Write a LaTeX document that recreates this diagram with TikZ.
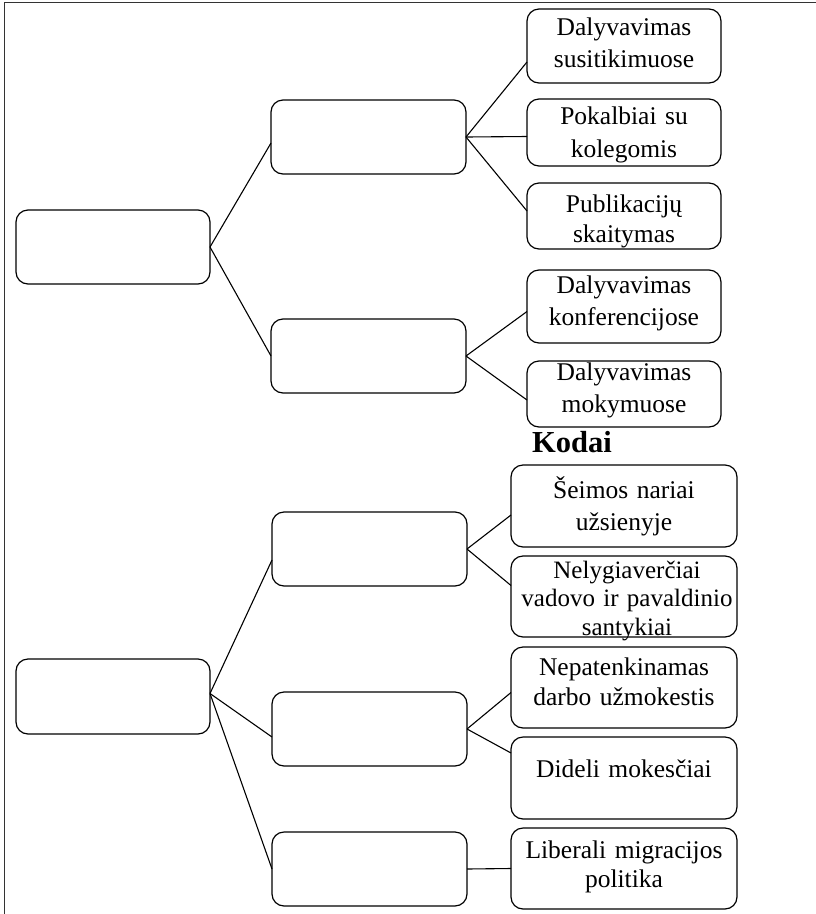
\documentclass[tikz,border=0pt]{standalone}
\usepackage{fontspec}
\setmainfont{Liberation Serif}
\begin{document}
\begin{tikzpicture}[x=1pt,y=-1pt,
  box/.style={draw, line width=1.2pt, rounded corners=12pt, inner sep=0pt, outer sep=0pt},
  lbl/.style={inner sep=0pt, outer sep=0pt, text width=250pt, align=center, anchor=base},
  conn/.style={line width=1.1pt}]
\useasboundingbox (0,0) rectangle (816,914);
\draw[line width=1pt, black!80] (4,914) -- (4,2) -- (816,2);

% top group boxes
\node[box, minimum width=194pt, minimum height=74pt] (root1) at (113,247) {};
\node[box, minimum width=195pt, minimum height=74pt] (mid1a) at (368.5,137) {};
\node[box, minimum width=195pt, minimum height=74pt] (mid1b) at (368.5,356) {};
\node[box, minimum width=194pt, minimum height=74pt] (leaf1) at (624,46) {};
\node[box, minimum width=194pt, minimum height=67pt] (leaf2) at (624,132.5) {};
\node[box, minimum width=194pt, minimum height=66pt] (leaf3) at (624,216) {};
\node[box, minimum width=194pt, minimum height=73pt] (leaf4) at (624,306.5) {};
\node[box, minimum width=194pt, minimum height=66pt] (leaf5) at (624,394) {};

% bottom group boxes
\node[box, minimum width=194pt, minimum height=75pt] (root2) at (113,696.5) {};
\node[box, minimum width=195pt, minimum height=74pt] (mid2a) at (369.5,549) {};
\node[box, minimum width=195pt, minimum height=74pt] (mid2b) at (369.5,729) {};
\node[box, minimum width=195pt, minimum height=74pt] (mid2c) at (369.5,869) {};
\node[box, minimum width=226pt, minimum height=82pt] (leaf6) at (624,506) {};
\node[box, minimum width=226pt, minimum height=81pt] (leaf7) at (624,596.5) {};
\node[box, minimum width=226pt, minimum height=81pt] (leaf8) at (624,687.5) {};
\node[box, minimum width=226pt, minimum height=82pt] (leaf9) at (624,778) {};
\node[box, minimum width=226pt, minimum height=81pt] (leaf10) at (624,868.5) {};

% texts
\node[lbl, font=\fontsize{25.5}{32}\selectfont] (t1) at (624,35) {Dalyvavimas\\susitikimuose};
\node[lbl, font=\fontsize{25.5}{33}\selectfont] (t2) at (624,124) {Pokalbiai su\\kolegomis};
\node[lbl, font=\fontsize{25.5}{30}\selectfont] (t3) at (624,212) {Publikacijų\\skaitymas};
\node[lbl, font=\fontsize{25.5}{32}\selectfont] (t4) at (624,293) {Dalyvavimas\\konferencijose};
\node[lbl, font=\fontsize{25.5}{32}\selectfont] (t5) at (624,380) {Dalyvavimas\\mokymuose};
\node[inner sep=0pt, anchor=base west, font=\fontsize{30.5}{34}\selectfont\bfseries] (kodai) at (532,452) {Kodai};
\node[lbl, font=\fontsize{25.5}{32}\selectfont] (t6) at (624,498) {Šeimos nariai\\užsienyje};
\node[lbl, font=\fontsize{25}{28.5}\selectfont] (t7) at (627,578) {Nelygiaverčiai\\vadovo ir pavaldinio\\santykiai};
\node[lbl, font=\fontsize{25.5}{30}\selectfont] (t8) at (624,675) {Nepatenkinamas\\darbo užmokestis};
\node[lbl, font=\fontsize{25.5}{30}\selectfont] (t9) at (624,777) {Dideli mokesčiai};
\node[lbl, font=\fontsize{25.5}{29}\selectfont] (t10) at (624,858) {Liberali migracijos\\politika};

% connectors top
\draw[conn] (root1.east) -- ([yshift=-6pt]mid1a.west);
\draw[conn] (root1.east) -- (mid1b.west);
\draw[conn] (mid1a.east) -- ([yshift=-16pt]leaf1.west);
\draw[conn] (mid1a.east) -- ([yshift=-4pt]leaf2.west);
\draw[conn] (mid1a.east) -- ([yshift=5pt]leaf3.west);
\draw[conn] (mid1b.east) -- ([yshift=-5pt]leaf4.west);
\draw[conn] (mid1b.east) -- ([yshift=-6pt]leaf5.west);

% connectors bottom
\draw[conn] ([yshift=3pt]root2.east) -- ([yshift=-11pt]mid2a.west);
\draw[conn] ([yshift=3pt]root2.east) -- ([yshift=-8pt]mid2b.west);
\draw[conn] ([yshift=3pt]root2.east) -- (mid2c.west);
\draw[conn] (mid2a.east) -- ([yshift=-9pt]leaf6.west);
\draw[conn] (mid2a.east) -- ([yshift=11pt]leaf7.west);
\draw[conn] (mid2b.east) -- ([yshift=-5pt]leaf8.west);
\draw[conn] (mid2b.east) -- ([yshift=25pt]leaf9.west);
\draw[conn] (mid2c.east) -- (leaf10.west);
\end{tikzpicture}
\end{document}
